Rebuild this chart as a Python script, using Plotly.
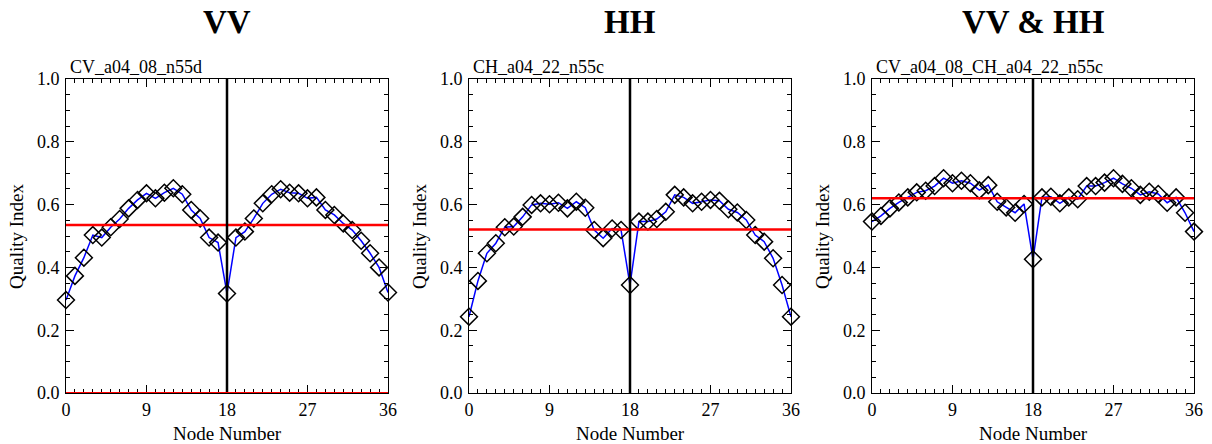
import plotly.graph_objects as go

nodes = list(range(37))

vv = [0.296, 0.373, 0.431, 0.503, 0.495, 0.528, 0.554, 0.588, 0.615, 0.636,
      0.620, 0.638, 0.652, 0.633, 0.583, 0.556, 0.495, 0.479, 0.317, 0.495,
      0.514, 0.556, 0.604, 0.633, 0.649, 0.638, 0.636, 0.620, 0.623, 0.583,
      0.567, 0.540, 0.519, 0.485, 0.445, 0.400, 0.320]

hh = [0.243, 0.357, 0.445, 0.477, 0.528, 0.530, 0.561, 0.599, 0.604, 0.601,
      0.606, 0.588, 0.609, 0.590, 0.519, 0.493, 0.524, 0.519, 0.344, 0.546,
      0.546, 0.554, 0.577, 0.631, 0.623, 0.604, 0.609, 0.615, 0.612, 0.585,
      0.575, 0.551, 0.503, 0.482, 0.429, 0.344, 0.243]

vvhh = [0.546, 0.564, 0.588, 0.607, 0.623, 0.639, 0.644, 0.659, 0.684, 0.668,
        0.676, 0.668, 0.646, 0.662, 0.609, 0.591, 0.574, 0.602, 0.426, 0.623,
        0.625, 0.604, 0.623, 0.617, 0.659, 0.659, 0.670, 0.684, 0.666, 0.652,
        0.631, 0.641, 0.634, 0.606, 0.623, 0.574, 0.514]

means = [0.535, 0.521, 0.620]
titles = ["VV", "HH", "VV &amp; HH"]
subtitles = ["CV_a04_08_n55d", "CH_a04_22_n55c", "CV_a04_08_CH_a04_22_n55c"]
series = [vv, hh, vvhh]
x_ticks = [0, 9, 18, 27, 36]
y_ticks = [0.0, 0.2, 0.4, 0.6, 0.8, 1.0]
split_node = 18

W, H = 1212, 444
x_domains = [(66 / W, 388 / W), (469 / W, 791 / W), (872 / W, 1194 / W)]
y_domain = ((H - 393) / H, (H - 79) / H)

FONT = "Liberation Serif, Times New Roman, serif"

fig = go.Figure()
shapes = []
annotations = []

for i, (vals, mean) in enumerate(zip(series, means)):
    sfx = "" if i == 0 else str(i + 1)
    xa, ya = "x" + sfx, "y" + sfx
    fig.add_trace(go.Scatter(
        x=nodes, y=vals, mode="lines", xaxis=xa, yaxis=ya,
        line=dict(color="#0000ff", width=1.5), showlegend=False, hoverinfo="skip"))
    fig.add_trace(go.Scatter(
        x=nodes, y=vals, mode="markers", xaxis=xa, yaxis=ya,
        marker=dict(symbol="diamond-open", size=13, color="black",
                    line=dict(color="black", width=1.5)),
        showlegend=False, cliponaxis=False))
    # mean line
    shapes.append(dict(type="line", xref=xa + " domain", yref=ya,
                       x0=0, x1=1, y0=mean, y1=mean,
                       line=dict(color="#ff0000", width=2.5)))
    # vertical line at split node
    shapes.append(dict(type="line", xref=xa, yref=ya + " domain",
                       x0=split_node, x1=split_node, y0=0, y1=1,
                       line=dict(color="black", width=2.5)))
    ax_common = dict(showline=True, linecolor="black", linewidth=1, mirror="ticks",
                     ticks="inside", ticklen=8, tickcolor="black", showgrid=False,
                     zeroline=False, automargin=False,
                     tickfont=dict(family=FONT, size=18, color="black"))
    fig.update_layout(**{
        ("xaxis" + sfx): dict(domain=list(x_domains[i]), anchor=ya, range=[0, 36],
                              tickvals=x_ticks, ticklabelstandoff=0,
                              minor=dict(dtick=1, ticklen=4, ticks="inside", tickcolor="black"),
                              **ax_common),
        ("yaxis" + sfx): dict(domain=list(y_domain), anchor=xa, range=[0, 1],
                              tickvals=y_ticks, tickformat=".1f", ticklabelstandoff=2,
                              minor=dict(dtick=0.05, ticklen=4, ticks="inside", tickcolor="black"),
                              **ax_common),
    })
    x0p, x1p = x_domains[i]
    cx = (x0p + x1p) / 2
    annotations.append(dict(text="<b>" + titles[i] + "</b>", xref="paper", yref="paper",
                            x=cx, y=1 - 22 / H, xanchor="center", yanchor="middle",
                            showarrow=False, font=dict(family=FONT, size=33, color="black")))
    annotations.append(dict(text=subtitles[i], xref="paper", yref="paper",
                            x=x0p + 2 / W, y=1 - 67 / H, xanchor="left",
                            yanchor="middle", showarrow=False,
                            font=dict(family=FONT, size=18, color="black")))
    annotations.append(dict(text="Node Number", xref="paper", yref="paper",
                            x=cx, y=1 - 433 / H, xanchor="center", yanchor="middle",
                            showarrow=False, font=dict(family=FONT, size=19, color="black")))
    annotations.append(dict(text="Quality Index", xref="paper", yref="paper",
                            x=x0p - 49 / W, y=(y_domain[0] + y_domain[1]) / 2,
                            xanchor="center", yanchor="middle", textangle=-90,
                            showarrow=False, font=dict(family=FONT, size=19, color="black")))

# red line along zero in first panel
shapes.append(dict(type="line", xref="x domain", yref="y", x0=0, x1=1, y0=0, y1=0,
                   line=dict(color="#ff0000", width=2)))

fig.update_layout(width=W, height=H, margin=dict(l=0, r=0, t=0, b=0),
                  paper_bgcolor="white", plot_bgcolor="white",
                  shapes=shapes, annotations=annotations,
                  font=dict(family=FONT, color="black"))

fig.write_html("out.html")
